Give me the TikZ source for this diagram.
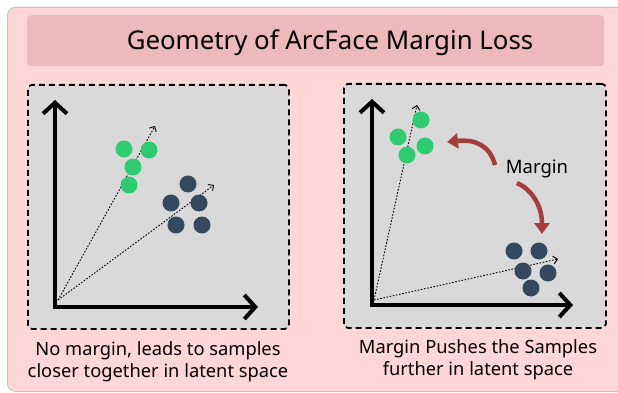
\documentclass[tikz,border=0pt]{standalone}
\usepackage{fontspec}
\setmainfont{Noto Sans}
\usetikzlibrary{arrows.meta}
\definecolor{outerpink}{HTML}{FFD7D7}
\definecolor{outerline}{HTML}{C9C0C0}
\definecolor{titlepink}{HTML}{EEB9BA}
\definecolor{panelgray}{HTML}{D9D9D9}
\definecolor{greendot}{HTML}{2ECC71}
\definecolor{navydot}{HTML}{34495E}
\definecolor{marginred}{HTML}{A63C3C}
\tikzset{
  panel/.style={draw=black, fill=panelgray, line width=1.8pt, dash pattern=on 6pt off 4pt, rounded corners=4pt},
  axis/.style={line width=4pt, -{Straight Barb[length=11pt,width=24pt,line width=4pt]}},
  vec/.style={line width=0.9pt, dash pattern=on 1.6pt off 1.6pt, -{Straight Barb[length=4pt,width=8pt,line width=0.9pt]}},
  gdot/.style={circle, fill=greendot, minimum size=17pt, inner sep=0pt},
  ndot/.style={circle, fill=navydot, minimum size=17pt, inner sep=0pt},
  marrow/.style={line width=4.5pt, marginred, -{Triangle[length=11pt,width=15pt]}},
  caption/.style={align=center, font=\fontsize{18.3}{22}\selectfont},
}
\begin{document}
\begin{tikzpicture}[x=1pt, y=-1pt]
\useasboundingbox (0,0) rectangle (618,393);
% outer frame
\node[draw=outerline, fill=outerpink, line width=0.8pt, rounded corners=8pt, minimum width=620pt, minimum height=384pt, anchor=north west, inner sep=0pt] (outer) at (7,7) {};
% title bar
\node[fill=titlepink, rounded corners=4pt, minimum width=577pt, minimum height=51pt, anchor=north west, inner sep=0pt] (titlebar) at (27,15) {};
\node[anchor=base, font=\fontsize{25.8}{30}\selectfont] (title) at (330,50) {Geometry of ArcFace Margin Loss};
% panels
\node[panel, minimum width=261pt, minimum height=244pt, anchor=north west, inner sep=0pt] (lpanel) at (27,84) {};
\node[panel, minimum width=262pt, minimum height=244pt, anchor=north west, inner sep=0pt] (rpanel) at (343,83) {};
% left axes
\coordinate (lo) at (55,307);
\coordinate (ly) at (55,100);
\coordinate (lx) at (258,307);
\draw[axis] ([yshift=2pt]lo) -- (ly);
\draw[axis] ([xshift=-2pt]lo) -- (lx);
\coordinate (lv) at (58,300);
\coordinate (lv1) at (155,126);
\coordinate (lv2) at (214,185);
\draw[vec] (lv) -- (lv1);
\draw[vec] (lv) -- (lv2);
\node[gdot] (lg1) at (124,149) {};
\node[gdot] (lg2) at (149,150) {};
\node[gdot] (lg3) at (133,167) {};
\node[gdot] (lg4) at (129,185) {};
\node[ndot] (ln1) at (188,184) {};
\node[ndot] (ln2) at (171,203) {};
\node[ndot] (ln3) at (199,203) {};
\node[ndot] (ln4) at (176,225) {};
\node[ndot] (ln5) at (202,225) {};
% right axes
\coordinate (ro) at (372,305);
\coordinate (ry) at (372,99);
\coordinate (rx) at (573,305);
\draw[axis] ([yshift=2pt]ro) -- (ry);
\draw[axis] ([xshift=-2pt]ro) -- (rx);
\coordinate (rv) at (374,300);
\coordinate (rv1) at (417,105);
\coordinate (rv2) at (558,259);
\draw[vec] (rv) -- (rv1);
\draw[vec] (rv) -- (rv2);
\node[gdot] (rg1) at (421,120) {};
\node[gdot] (rg2) at (398,137) {};
\node[gdot] (rg3) at (425,146) {};
\node[gdot] (rg4) at (407,155) {};
\node[ndot] (rn1) at (514,251) {};
\node[ndot] (rn2) at (539,251) {};
\node[ndot] (rn3) at (523,271) {};
\node[ndot] (rn4) at (548,273) {};
\node[ndot] (rn5) at (531,288) {};
% margin label and arrows
\node[anchor=base, font=\fontsize{18.5}{22}\selectfont] (margin) at (537,173) {Margin};
\coordinate (m1s) at (495,165);
\coordinate (m1e) at (447,142);
\coordinate (m2s) at (517,183);
\coordinate (m2e) at (542,234);
\draw[marrow] (m1s) .. controls (490,146) and (476,139) .. (m1e);
\draw[marrow] (m2s) .. controls (531,189) and (542,205) .. (m2e);
% captions
\node[caption] (lcap) at (158,362) {No margin, leads to samples\\closer together in latent space};
\node[caption] (rcap) at (478,360) {Margin Pushes the Samples\\further in latent space};
\end{tikzpicture}
\end{document}
